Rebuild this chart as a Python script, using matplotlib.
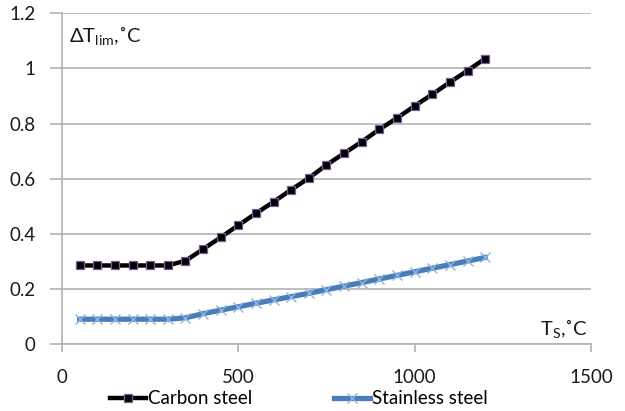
import matplotlib
matplotlib.use("Agg")
import matplotlib.pyplot as plt

plt.rcParams['font.family'] = ['Lato', 'DejaVu Sans']
plt.rcParams['mathtext.fontset'] = 'custom'
plt.rcParams['mathtext.rm'] = 'Lato'
plt.rcParams['mathtext.it'] = 'Lato'

# surface temperature, C
ts = [50, 100, 150, 200, 250, 300, 350, 400, 450, 500, 550, 600,
      650, 700, 750, 800, 850, 900, 950, 1000, 1050, 1100, 1150, 1200]

carbon = [0.285, 0.285, 0.285, 0.285, 0.285, 0.285, 0.302, 0.344, 0.387, 0.431,
          0.474, 0.516, 0.560, 0.602, 0.650, 0.692, 0.734, 0.779, 0.820, 0.864,
          0.906, 0.950, 0.992, 1.036]

stainless = [0.09, 0.09, 0.09, 0.09, 0.09, 0.09, 0.095, 0.110, 0.123, 0.135,
             0.148, 0.160, 0.172, 0.184, 0.197, 0.210, 0.223, 0.236, 0.249, 0.262,
             0.275, 0.288, 0.301, 0.314]

xticks = [0, 500, 1000, 1500]
yticks = [0, 0.2, 0.4, 0.6, 0.8, 1.0, 1.2]
ylabels = ['0', '0.2', '0.4', '0.6', '0.8', '1', '1.2']

fig = plt.figure(figsize=(6.25, 4.11), dpi=100)
ax = fig.add_axes([0.0992, 0.163, 0.8464, 0.8046])

grid_c = '#b3b3b3'
ax.set_xlim(0, 1500)
ax.set_ylim(0, 1.2)
ax.set_yticks(yticks)
ax.set_yticklabels(ylabels)
ax.set_xticks(xticks)
ax.yaxis.grid(True, color=grid_c, linewidth=1.2)
ax.set_axisbelow(True)

for s in ['top', 'right']:
    ax.spines[s].set_visible(False)
ax.spines['left'].set_color(grid_c)
ax.spines['bottom'].set_color(grid_c)
ax.spines['left'].set_linewidth(1.2)
ax.spines['bottom'].set_linewidth(1.2)

ax.tick_params(axis='y', length=9, width=1.2, color=grid_c, pad=10,
               labelsize=13.5, labelcolor='#1a1a1a')
ax.tick_params(axis='x', length=6, width=1.2, color=grid_c, pad=12,
               labelsize=13.5, labelcolor='#1a1a1a')

ax.plot(ts, carbon, color='black', linewidth=3.2, marker='s', markersize=6,
        markerfacecolor='black', markeredgecolor='#7a5a9a', markeredgewidth=0.9,
        label='Carbon steel', clip_on=False, zorder=3)
ax.plot(ts, stainless, color='#4a7ebb', linewidth=3.8, marker='x', markersize=7,
        markeredgecolor='#8fb2de', markeredgewidth=1.0,
        label='Stainless steel', clip_on=False, zorder=3)

ax.text(20, 1.12, r'$\Delta$T$_{\mathrm{lim}}$,˚C', fontsize=14.5, color='#1a1a1a',
        va='center', ha='left')
ax.text(1490, 0.055, r'T$_{\mathrm{S}}$,˚C', fontsize=14.5, color='#1a1a1a',
        va='center', ha='right')

fig.legend(loc='center', bbox_to_anchor=(0.478, 0.03), ncol=2,
           frameon=False, fontsize=13.5, handlelength=1.9, handletextpad=0.1,
           columnspacing=4.4, borderpad=0)

fig.savefig('out.png', dpi=100)
